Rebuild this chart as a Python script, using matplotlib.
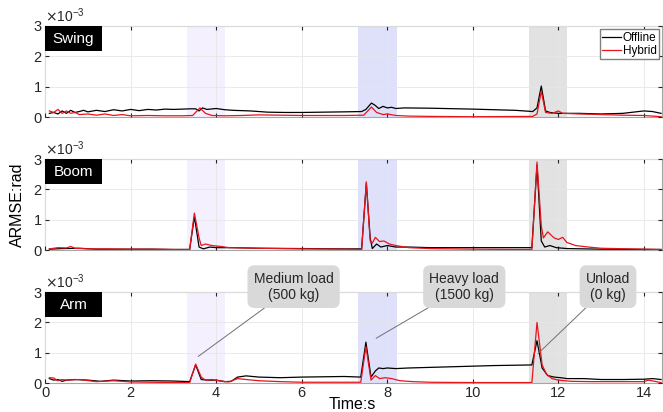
import matplotlib
matplotlib.use("Agg")
import numpy as np
import matplotlib.pyplot as plt
from matplotlib.ticker import ScalarFormatter
from matplotlib.patches import Rectangle

plt.rcParams["font.family"] = ["Liberation Sans", "DejaVu Sans"]

# values are in units of 1e-3 rad
swing_off_t = [0.1, 0.2, 0.3, 0.4, 0.5, 0.6, 0.7, 0.8, 0.9, 1.0, 1.2, 1.4, 1.6, 1.8, 2.0, 2.2, 2.4,
               2.6, 2.8, 3.0, 3.2, 3.4, 3.52, 3.6, 3.68, 3.78, 4.0, 4.2, 4.4, 4.8, 5.2, 5.6, 6.0,
               6.5, 7.0, 7.4, 7.5, 7.63, 7.72, 7.8, 7.9, 8.0, 8.1, 8.2, 8.4, 9.0, 10.0, 11.0,
               11.4, 11.5, 11.6, 11.7, 11.8, 12.0, 12.5, 13.0, 13.5, 14.0, 14.2, 14.4]
swing_off_v = [0.12, 0.15, 0.1, 0.2, 0.12, 0.22, 0.15, 0.18, 0.22, 0.17, 0.22, 0.18, 0.24, 0.2,
               0.25, 0.21, 0.25, 0.23, 0.26, 0.25, 0.26, 0.27, 0.27, 0.2, 0.3, 0.25, 0.28, 0.24,
               0.22, 0.2, 0.16, 0.15, 0.15, 0.16, 0.17, 0.18, 0.25, 0.46, 0.38, 0.28, 0.35, 0.3,
               0.32, 0.28, 0.3, 0.29, 0.26, 0.22, 0.18, 0.3, 1.02, 0.2, 0.15, 0.12, 0.12, 0.1,
               0.12, 0.2, 0.18, 0.12]
swing_hyb_t = [0.1, 0.2, 0.3, 0.4, 0.5, 0.6, 0.7, 0.8, 1.0, 1.2, 1.4, 1.6, 1.8, 2.0, 2.4, 2.8,
               3.2, 3.45, 3.62, 3.75, 3.9, 4.2, 4.6, 5.0, 5.5, 6.0, 7.0, 7.45, 7.63, 7.75, 7.9,
               8.0, 8.2, 8.5, 9.0, 10.0, 11.4, 11.5, 11.6, 11.7, 11.85, 12.0, 12.1, 12.5, 13.0,
               13.5, 14.0, 14.4]
swing_hyb_v = [0.2, 0.15, 0.25, 0.12, 0.2, 0.12, 0.15, 0.08, 0.1, 0.06, 0.1, 0.05, 0.08, 0.04,
               0.05, 0.04, 0.04, 0.05, 0.3, 0.12, 0.05, 0.04, 0.05, 0.07, 0.06, 0.05, 0.05, 0.06,
               0.33, 0.15, 0.08, 0.1, 0.05, 0.03, 0.02, 0.01, 0.02, 0.1, 0.85, 0.15, 0.12, 0.2,
               0.12, 0.1, 0.08, 0.06, 0.05, 0.01]

boom_off_t = [0.1, 0.4, 0.8, 1.2, 2.0, 2.5, 3.0, 3.38, 3.49, 3.6, 3.7, 3.85, 4.0, 4.4, 5.0, 6.0,
              7.0, 7.4, 7.51, 7.6, 7.65, 7.75, 7.85, 8.0, 8.2, 8.5, 9.0, 10.0, 11.0, 11.38, 11.5,
              11.6, 11.68, 11.8, 11.95, 12.2, 13.0, 14.4]
boom_off_v = [0.03, 0.05, 0.06, 0.03, 0.03, 0.03, 0.02, 0.02, 1.1, 0.1, 0.04, 0.1, 0.08, 0.08,
              0.06, 0.05, 0.04, 0.04, 2.2, 0.4, 0.05, 0.2, 0.1, 0.15, 0.1, 0.1, 0.08, 0.08, 0.08,
              0.08, 2.8, 0.3, 0.1, 0.15, 0.08, 0.05, 0.03, 0.02]
boom_hyb_t = [0.1, 0.3, 0.5, 0.6, 0.7, 1.0, 1.4, 2.0, 2.5, 3.0, 3.38, 3.49, 3.6, 3.65, 3.75, 3.9,
              4.1, 4.3, 5.0, 6.0, 7.0, 7.4, 7.51, 7.6, 7.65, 7.72, 7.82, 7.92, 8.05, 8.2, 8.5,
              9.0, 10.0, 11.0, 11.38, 11.5, 11.6, 11.65, 11.75, 11.9, 12.0, 12.1, 12.2, 12.4,
              12.7, 13.0, 14.0, 14.4]
boom_hyb_v = [0.04, 0.08, 0.07, 0.12, 0.06, 0.04, 0.04, 0.03, 0.03, 0.02, 0.02, 1.22, 0.4, 0.15,
              0.2, 0.15, 0.12, 0.08, 0.06, 0.04, 0.03, 0.02, 2.25, 0.3, 0.23, 0.42, 0.28, 0.3,
              0.2, 0.15, 0.08, 0.05, 0.03, 0.02, 0.02, 2.9, 0.8, 0.4, 0.6, 0.4, 0.35, 0.42, 0.25,
              0.15, 0.1, 0.06, 0.03, 0.02]

arm_off_t = [0.1, 0.2, 0.3, 0.4, 0.5, 0.7, 1.0, 1.3, 1.6, 2.0, 2.5, 3.0, 3.38, 3.52, 3.65, 3.8,
             4.0, 4.2, 4.35, 4.5, 4.7, 5.0, 5.5, 6.0, 6.5, 7.0, 7.38, 7.5, 7.62, 7.72, 7.8, 7.9,
             8.0, 8.2, 8.5, 9.5, 10.5, 11.38, 11.5, 11.62, 11.75, 11.9, 12.05, 12.2, 12.6, 13.0,
             13.5, 14.0, 14.2, 14.4]
arm_off_v = [0.15, 0.1, 0.12, 0.06, 0.1, 0.12, 0.1, 0.06, 0.1, 0.07, 0.08, 0.07, 0.05, 0.6, 0.12,
             0.1, 0.1, 0.05, 0.06, 0.2, 0.24, 0.2, 0.18, 0.2, 0.21, 0.22, 0.2, 1.35, 0.2, 0.4,
             0.5, 0.48, 0.5, 0.48, 0.5, 0.54, 0.58, 0.6, 1.4, 0.5, 0.25, 0.2, 0.18, 0.15, 0.15,
             0.12, 0.12, 0.13, 0.15, 0.12]
arm_hyb_t = [0.1, 0.2, 0.3, 0.4, 0.5, 0.8, 1.2, 1.6, 2.0, 2.5, 3.0, 3.38, 3.52, 3.65, 3.75, 3.9,
             4.1, 4.3, 4.5, 4.7, 5.0, 5.5, 6.0, 7.0, 7.38, 7.5, 7.62, 7.72, 7.82, 7.95, 8.1, 8.3,
             8.6, 9.0, 10.0, 11.38, 11.5, 11.62, 11.72, 11.85, 12.0, 12.3, 12.8, 13.5, 14.0,
             14.1, 14.4]
arm_hyb_v = [0.18, 0.17, 0.08, 0.12, 0.1, 0.12, 0.05, 0.08, 0.04, 0.03, 0.02, 0.02, 0.63, 0.2,
             0.1, 0.12, 0.07, 0.04, 0.15, 0.12, 0.08, 0.05, 0.03, 0.03, 0.03, 1.2, 0.1, 0.25,
             0.15, 0.18, 0.15, 0.08, 0.05, 0.03, 0.02, 0.02, 2.0, 0.6, 0.3, 0.15, 0.1, 0.06,
             0.05, 0.05, 0.05, 0.1, 0.02]

panels = ["Swing", "Boom", "Arm"]
series = [(swing_off_t, swing_off_v, swing_hyb_t, swing_hyb_v),
          (boom_off_t, boom_off_v, boom_hyb_t, boom_hyb_v),
          (arm_off_t, arm_off_v, arm_hyb_t, arm_hyb_v)]

spans = [(3.32, 4.2, "#f4f0fd"), (7.31, 8.22, "#dfe0fa"), (11.31, 12.21, "#e2e2e2")]

notes = ["Medium load\n(500 kg)", "Heavy load\n(1500 kg)", "Unload\n(0 kg)"]
note_xy = [(3.58, 0.88), (7.74, 1.48), (11.52, 0.97)]
note_text_xy = [(5.81, 3.18), (9.8, 3.18), (13.16, 3.18)]

fig = plt.figure(figsize=(6.63, 4.12), dpi=100)
bottoms = [0.716, 0.393, 0.070]
axes = []
for i, name in enumerate(panels):
    ax = fig.add_axes([0.068, bottoms[i], 0.931, 0.221])
    axes.append(ax)
    for a, b, c in spans:
        ax.axvspan(a, b, color=c, lw=0, zorder=0)
    ot, ov, ht, hv = series[i]
    ax.plot(ot, np.array(ov) * 1e-3, color="black", lw=0.9, label="Offline", zorder=3)
    ax.plot(ht, np.array(hv) * 1e-3, color="#e8141c", lw=0.9, label="Hybrid", zorder=4)
    ax.set_xlim(0, 14.43)
    ax.set_ylim(0, 3e-3)
    ax.set_xticks(range(0, 15, 2))
    ax.set_yticks([0, 1e-3, 2e-3, 3e-3])
    fmt = ScalarFormatter(useMathText=True)
    fmt.set_powerlimits((-3, -3))
    ax.yaxis.set_major_formatter(fmt)
    ax.yaxis.get_offset_text().set_fontsize(10)
    ax.yaxis.get_offset_text().set_color("#262626")
    ax.grid(True, color="#e6e6e6", lw=0.6, zorder=1)
    ax.set_axisbelow(False)
    ax.tick_params(direction="in", length=3, labelsize=10.5, colors="#262626",
                   top=True, right=True, pad=2)
    for s in ax.spines.values():
        s.set_color("#a6a6a6")
        s.set_linewidth(0.8)
    if i < 2:
        ax.set_xticklabels([])
    ax.add_patch(Rectangle((0, 0.725), 0.092, 0.275, transform=ax.transAxes,
                           facecolor="black", edgecolor="none", zorder=6))
    ax.text(0.046, 0.862, name, transform=ax.transAxes, color="white", fontsize=11,
            ha="center", va="center", zorder=7)

axes[0].legend(loc="upper right", fontsize=8.5, frameon=True, fancybox=False,
               edgecolor="#808080", handlelength=1.6, handletextpad=0.1,
               borderaxespad=0.3, borderpad=0.2, labelspacing=0.1, framealpha=1)

ax = axes[2]
for txt, xy, xyt in zip(notes, note_xy, note_text_xy):
    ax.annotate(txt, xy=(xy[0], xy[1] * 1e-3), xytext=(xyt[0], xyt[1] * 1e-3),
                ha="center", va="center", fontsize=10, color="#262626",
                annotation_clip=False, zorder=8,
                bbox=dict(boxstyle="round,pad=0.45,rounding_size=0.5",
                          facecolor="#d9d9d9", edgecolor="none"),
                arrowprops=dict(arrowstyle="-", color="#707070", lw=0.7,
                                shrinkA=0, shrinkB=0))

fig.text(0.027, 0.502, "ARMSE:rad", rotation=90, ha="center", va="center", fontsize=11.5)
fig.text(0.531, 0.018, "Time:s", ha="center", va="center", fontsize=11.5)

fig.savefig("out.png", dpi=100, facecolor="white")
plt.close(fig)
